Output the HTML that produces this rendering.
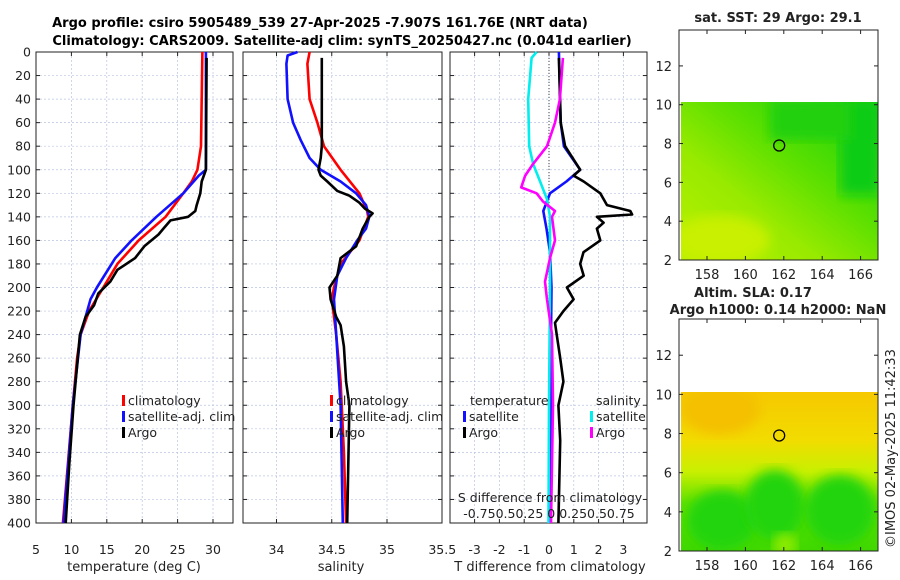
<!DOCTYPE html>
<html><head><meta charset="utf-8"><style>
body{margin:0;background:#fff}
svg{display:block;font-family:"DejaVu Sans","Liberation Sans",sans-serif}
</style></head><body>
<svg id="fig" width="900" height="580" viewBox="0 0 900 580">
<defs>
<linearGradient id="sstg" x1="0" y1="1" x2="1" y2="0">
<stop offset="0" stop-color="#b8f000"/><stop offset="0.35" stop-color="#98ea00"/><stop offset="0.6" stop-color="#5ce000"/><stop offset="1" stop-color="#10d010"/></linearGradient>
<linearGradient id="slag" x1="0" y1="0" x2="0" y2="1">
<stop offset="0" stop-color="#f6c800"/><stop offset="0.3" stop-color="#f2dc00"/><stop offset="0.5" stop-color="#c8f000"/><stop offset="0.7" stop-color="#60e000"/><stop offset="1" stop-color="#40d800"/></linearGradient>
<filter id="blur"><feGaussianBlur stdDeviation="6"/></filter>
<clipPath id="c1"><rect x="681" y="102" width="197" height="158"/></clipPath>
<clipPath id="c2"><rect x="681" y="392" width="197" height="159"/></clipPath>
</defs>
<g id="root"></g>
<text x="320" y="27" text-anchor="middle" font-size="13" font-weight="bold">Argo profile: csiro 5905489_539 27-Apr-2025 -7.907S 161.76E (NRT data)</text>
<text x="342" y="45" text-anchor="middle" font-size="13" font-weight="bold">Climatology: CARS2009. Satellite-adj clim: synTS_20250427.nc (0.041d earlier)</text>
</svg>
<script>
// ---- data ----
const tClimDepth=[0,80,100,110,120,140,160,180,200,220,240,260,300,350,400];
const tClimVal=[28.5,28.3,27.8,27,25.8,23.3,19.5,16.5,14.5,12.5,11.3,10.8,10.2,9.5,8.8];
const tSatDepth=[0,100,105,120,140,160,175,200,210,240,300,400];
const tSatVal=[29,29,28,25.8,22,18.5,16.2,13.6,12.7,11.3,10.2,8.9];
const tArgoDepth=[5,100,110,120,130,135,140,143,150,155,165,175,185,195,205,215,225,240,280,300,350,400];
const tArgoVal=[29.1,29,28.4,28.2,27.7,27.5,26.5,24,23,22.3,20.3,19,16.5,15.5,13.8,13.2,12,11.2,10.6,10.3,9.7,9.2];
const sClimDepth=[0,10,40,60,80,100,120,135,140,160,180,200,210,240,280,340,400];
const sClimVal=[34.30,34.28,34.30,34.37,34.43,34.58,34.75,34.82,34.83,34.75,34.58,34.52,34.50,34.54,34.58,34.61,34.63];
const sSatDepth=[0,3,10,40,60,75,90,100,110,120,130,140,150,160,175,190,210,240,300,400];
const sSatVal=[34.19,34.10,34.09,34.10,34.15,34.22,34.30,34.40,34.58,34.72,34.81,34.84,34.81,34.73,34.63,34.55,34.52,34.54,34.58,34.60];
const sArgoDepth=[5,80,90,100,105,110,118,122,128,133,137,140,150,165,175,190,200,210,225,232,250,280,300,400];
const sArgoVal=[34.41,34.41,34.40,34.38,34.40,34.46,34.55,34.66,34.75,34.80,34.87,34.84,34.78,34.72,34.58,34.55,34.48,34.49,34.54,34.58,34.61,34.63,34.66,34.64];
const dTSatDepth=[0,60,80,100,110,120,135,150,170,200,240,300,400];
const dTSatVal=[0.4,0.47,0.6,1.26,0.7,0.04,-0.23,-0.1,0.04,0.1,0.08,0.07,0.04];
const dTArgoDepth=[5,60,80,100,105,110,120,130,135,138,140,145,150,160,170,180,190,200,210,220,230,240,260,280,300,330,400];
const dTArgoVal=[0.4,0.47,0.65,1.26,0.99,1.4,2.07,2.34,3.28,3.35,1.93,2.2,1.93,2.07,1.39,1.26,1.4,0.72,0.99,0.58,0.24,0.31,0.45,0.58,0.38,0.45,0.38];
const dSSatDepth=[0,5,40,80,95,110,125,140,200,300,400];
const dSSatVal=[-0.125,-0.175,-0.21,-0.2,-0.16,-0.09,-0.02,0.01,0.01,0.0,-0.005];
const dSArgoDepth=[5,40,60,80,95,105,115,120,127,135,140,160,175,195,210,240,300,400];
const dSArgoVal=[0.14,0.11,0.06,-0.02,-0.16,-0.24,-0.28,-0.125,-0.06,0.06,0.03,0.06,0.01,-0.04,-0.02,0.03,0.04,0.02];
const depthTicks=[0,20,40,60,80,100,120,140,160,180,200,220,240,260,280,300,320,340,360,380,400];
const tempTicks=[5,10,15,20,25,30];
const salTicks=[34,34.5,35,35.5];
const diffTicks=[-3,-2,-1,0,1,2,3];
const latTicks=[2,4,6,8,10,12];
const lonTicks=[158,160,162,164,166];

const NS='http://www.w3.org/2000/svg';
const root=document.getElementById('root');
function el(tag,attrs,parent){const e=document.createElementNS(NS,tag);for(const k in attrs)e.setAttribute(k,attrs[k]);(parent||root).appendChild(e);return e;}
function tx(x,y,s,attrs){const e=el('text',Object.assign({x:x,y:y,'font-size':12.5,fill:'#222'},attrs||{}));e.textContent=s;return e;}

const Y0=52,Y1=523;
const yD=d=>Y0+d*(Y1-Y0)/400;
const xT=t=>36+(t-5)*7.08;
const xS=s=>276.5+(s-34)*110.5;
const xDT=v=>549+v*24.8;
const xDS=v=>549+v*4*24.8;

function panel(x0,x1,name,xticks,xf,labelfmt,showY){
  const g=el('g',{});
  
  
  depthTicks.forEach(d=>{const l=el('line',{x1:x0,x2:x1,y1:yD(d),y2:yD(d),stroke:'#b8c4e0','stroke-width':0.7,'stroke-dasharray':'2,2'},g);
    
    el('line',{x1:x0,x2:x0+4,y1:yD(d),y2:yD(d),stroke:'#222'},g);el('line',{x1:x1,x2:x1-4,y1:yD(d),y2:yD(d),stroke:'#222'},g);
    if(showY){const t=tx(31,yD(d)+4.5,String(d),{'text-anchor':'end'});}
  });
  xticks.forEach(v=>{const X=xf(v);
    if(X>x0+1&&X<x1-1){
    const l=el('line',{x1:X,x2:X,y1:Y0,y2:Y1,stroke:'#b8c4e0','stroke-width':0.7,'stroke-dasharray':'2,2'},g);
    
    el('line',{x1:X,x2:X,y1:Y1,y2:Y1-4,stroke:'#222'},g);el('line',{x1:X,x2:X,y1:Y0,y2:Y0+4,stroke:'#222'},g);}
    const t=tx(X,554,labelfmt(v),{'text-anchor':'middle'});
  });
  const r=el('rect',{x:x0,y:Y0,width:x1-x0,height:Y1-Y0,fill:'none',stroke:'#222','stroke-width':1},g);
  
}
function line(depths,vals,xf,color,name,w){
  const p=depths.map((d,i)=>(i?'L':'M')+xf(vals[i]).toFixed(1)+','+yD(d).toFixed(1)).join('');
  const e=el('path',{d:p,fill:'none',stroke:color,'stroke-width':w||2.6,'stroke-linejoin':'round'});
  
  
}
function legend(x,y,color,label){
  const m=el('rect',{x:x,y:y-10,width:3,height:11,fill:color});
  
  
  const t=tx(x+6,y,label,{'font-size':12.5});
  
  
}
// Panel 1
panel(36,233,'temperature-panel',tempTicks,xT,v=>String(v),true);
line(tClimDepth,tClimVal,xT,'#f00','temp-climatology-line');
line(tSatDepth,tSatVal,xT,'#11f','temp-satellite-line');
line(tArgoDepth,tArgoVal,xT,'#000','temp-argo-line');
tx(134,571,'temperature (deg C)',{'text-anchor':'middle','font-size':13});
legend(122,405,'#f00','climatology');legend(122,421,'#11f','satellite-adj. clim');legend(122,437,'#000','Argo');
// Panel 2
panel(243,442,'salinity-panel',salTicks,xS,v=>String(v),false);
line(sClimDepth,sClimVal,xS,'#f00','sal-climatology-line');
line(sSatDepth,sSatVal,xS,'#11f','sal-satellite-line');
line(sArgoDepth,sArgoVal,xS,'#000','sal-argo-line');
tx(341,571,'salinity',{'text-anchor':'middle','font-size':13});
legend(330,405,'#f00','climatology');legend(330,421,'#11f','satellite-adj. clim');legend(330,437,'#000','Argo');
// Panel 3
panel(450,647,'difference-panel',diffTicks,xDT,v=>String(v),false);
el('line',{x1:549,x2:549,y1:Y0,y2:Y1,stroke:'#444','stroke-dasharray':'1,2'});
line(dTSatDepth,dTSatVal,xDT,'#11f','dT-satellite-line');
line(dTArgoDepth,dTArgoVal,xDT,'#000','dT-argo-line');
line(dSSatDepth,dSSatVal,xDS,'#0ee','dS-satellite-line');
line(dSArgoDepth,dSArgoVal,xDS,'#f0f','dS-argo-line');
tx(470,405,'temperature',{'font-size':12.5});tx(596,405,'salinity',{'font-size':12.5});
legend(463,421,'#11f','satellite');legend(463,437,'#000','Argo');
legend(590,421,'#0ee','satellite');legend(590,437,'#f0f','Argo');
tx(550,502,'S difference from climatology',{'text-anchor':'middle','font-size':12.5});
tx(549,518,'-0.750.50.25 0 0.250.50.75',{'text-anchor':'middle','font-size':12.5});
tx(550,571,'T difference from climatology',{'text-anchor':'middle','font-size':13});

// Maps
function mapAxes(top,bottom,name){
  const g=el('g',{});
  const lat=v=>bottom-(v-2)*((bottom-top)/11.85);
  const lon=v=>707+(v-158)*19.2;
  latTicks.forEach(v=>{el('line',{x1:679,x2:683,y1:lat(v),y2:lat(v),stroke:'#222'},g);el('line',{x1:878,x2:874,y1:lat(v),y2:lat(v),stroke:'#222'},g);
    const t=tx(672,lat(v)+5,String(v),{'text-anchor':'end','font-size':13});});
  lonTicks.forEach(v=>{el('line',{x1:lon(v),x2:lon(v),y1:bottom,y2:bottom-4,stroke:'#222'},g);el('line',{x1:lon(v),x2:lon(v),y1:top,y2:top+4,stroke:'#222'},g);
    const t=tx(lon(v),bottom+19,String(v),{'text-anchor':'middle','font-size':13});});
  el('rect',{x:679,y:top,width:199,height:bottom-top,fill:'none',stroke:'#222'},g);
  el('ellipse',{cx:lon(161.76),cy:lat(7.9),rx:5.5,ry:5.5,fill:'none',stroke:'#000','stroke-width':1.3},g);
}
// SST map
const m1=el('g',{'clip-path':'url(#c1)'});
el('rect',{x:681,y:102,width:197,height:158,fill:'url(#sstg)'},m1);
el('rect',{x:840,y:100,width:40,height:95,fill:'#10cc18',filter:'url(#blur)'},m1);
el('rect',{x:770,y:100,width:80,height:40,fill:'#20d010',filter:'url(#blur)'},m1);
el('ellipse',{cx:720,cy:240,rx:50,ry:25,fill:'#c8f000',filter:'url(#blur)'},m1);
mapAxes(30,260,'sst-map-axes');
tx(778,22,'sat. SST: 29 Argo: 29.1',{'text-anchor':'middle','font-size':13,'font-weight':'bold'});
// SLA map
const m2=el('g',{'clip-path':'url(#c2)'});
el('rect',{x:681,y:392,width:197,height:159,fill:'url(#slag)'},m2);
el('ellipse',{cx:720,cy:410,rx:40,ry:25,fill:'#f4c000',filter:'url(#blur)'},m2);
el('ellipse',{cx:722,cy:520,rx:35,ry:30,fill:'#20d410',filter:'url(#blur)'},m2);
el('ellipse',{cx:775,cy:505,rx:30,ry:35,fill:'#20d410',filter:'url(#blur)'},m2);
el('ellipse',{cx:840,cy:510,rx:35,ry:35,fill:'#20d410',filter:'url(#blur)'},m2);
el('ellipse',{cx:785,cy:545,rx:12,ry:12,fill:'#90ec00',filter:'url(#blur)'},m2);
mapAxes(319,551,'sla-map-axes');
tx(753,297,'Altim. SLA: 0.17',{'text-anchor':'middle','font-size':13,'font-weight':'bold'});
tx(778,314,'Argo h1000: 0.14 h2000: NaN',{'text-anchor':'middle','font-size':13,'font-weight':'bold'});
const cp=tx(0,0,'©IMOS 02-May-2025 11:42:33',{'font-size':13,transform:'translate(895,548) rotate(-90)'});

</script>
</body></html>
